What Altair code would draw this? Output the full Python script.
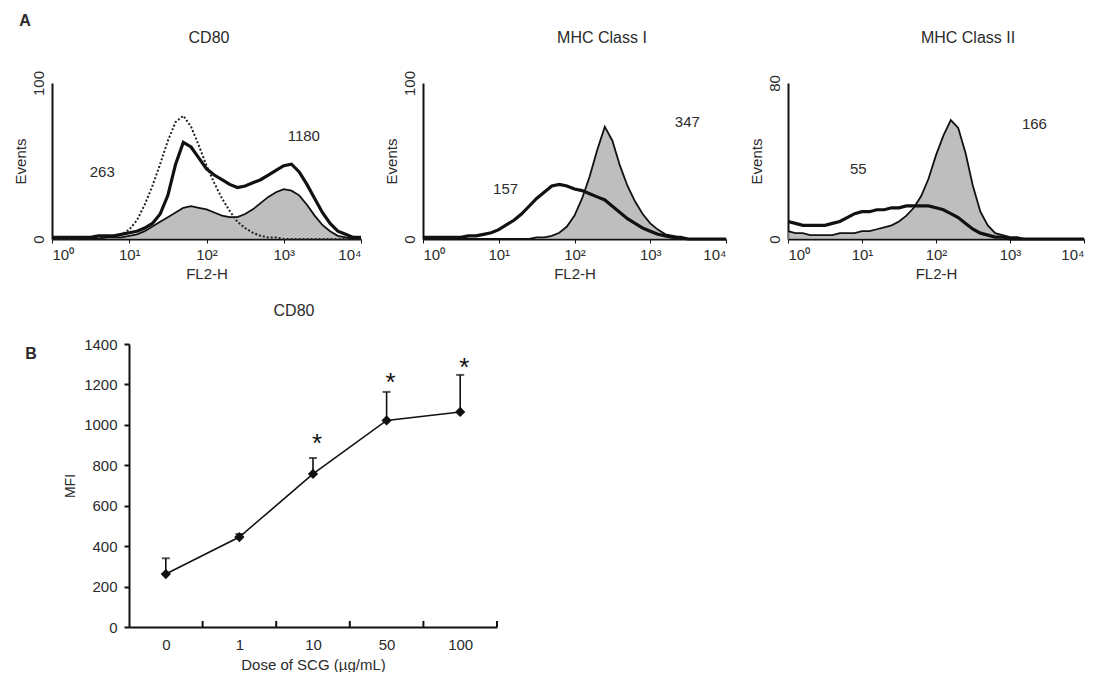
import altair as alt
import pandas as pd

# ---------------- data ----------------
LG = [0.0, 0.1, 0.2, 0.3, 0.4, 0.5, 0.6, 0.7, 0.8, 0.9,
      1.0, 1.1, 1.2, 1.3, 1.4, 1.5, 1.6, 1.7, 1.8, 1.9,
      2.0, 2.1, 2.2, 2.3, 2.4, 2.5, 2.6, 2.7, 2.8, 2.9,
      3.0, 3.1, 3.2, 3.3, 3.4, 3.5, 3.6, 3.7, 3.8, 3.9, 4.0]
DECADE_SUP = ["⁰", "¹", "²", "³", "⁴"]

# CD80
CD80_CTRL = [0, 0, 0, 0, 1, 1, 1, 1, 2, 3,
             6, 12, 22, 34, 48, 63, 75, 79, 72, 60,
             47, 36, 26, 18, 11, 7, 4, 2, 1, 1,
             0, 0, 0, 0, 0, 0, 0, 0, 0, 0, 0]
CD80_OPEN = [1, 1, 1, 1, 1, 1, 2, 2, 2, 3,
             4, 5, 7, 10, 16, 28, 48, 62, 59, 52,
             45, 41, 38, 35, 33, 34, 36, 38, 41, 44,
             47, 48, 43, 35, 26, 17, 10, 5, 3, 1, 1]
CD80_FILL = [0, 0, 0, 0, 0, 0, 0, 1, 1, 1,
             2, 3, 5, 8, 11, 14, 17, 20, 21, 20,
             19, 17, 15, 14, 14, 16, 19, 23, 27, 30,
             32, 31, 28, 22, 15, 9, 5, 2, 1, 0, 0]
# MHC class I
MHC1_OPEN = [1, 1, 1, 1, 1, 1, 2, 2, 3, 4,
             6, 9, 12, 16, 21, 26, 30, 34, 35, 34,
             32, 31, 29, 27, 25, 21, 17, 13, 10, 7,
             5, 3, 2, 1, 1, 0, 0, 0, 0, 0, 0]
MHC1_FILL = [0, 0, 0, 0, 0, 0, 0, 0, 0, 0,
             0, 0, 0, 0, 0, 1, 1, 2, 4, 8,
             15, 26, 40, 57, 72, 63, 47, 34, 24, 16,
             10, 6, 3, 2, 1, 0, 0, 0, 0, 0, 0]
# MHC class II
MHC2_OPEN = [9, 8, 7, 7, 7, 7, 8, 9, 11, 13,
             14, 14, 15, 15, 16, 16, 17, 17, 17, 17,
             16, 15, 13, 11, 8, 5, 3, 2, 1, 1,
             0, 0, 0, 0, 0, 0, 0, 0, 0, 0, 0]
MHC2_FILL = [4, 3, 3, 2, 2, 2, 2, 3, 3, 3,
             4, 4, 5, 6, 7, 9, 12, 16, 22, 31,
             43, 53, 61, 57, 44, 27, 14, 7, 3, 2,
             1, 1, 0, 0, 0, 0, 0, 0, 0, 0, 0]

# MFI annotations (text, log position, height)
CD80_ANN = ["263", "1180"];  CD80_ANN_X = [0.65, 3.26];  CD80_ANN_Y = [43, 66]
MHC1_ANN = ["157", "347"];   MHC1_ANN_X = [1.09, 3.49];  MHC1_ANN_Y = [32, 75]
MHC2_ANN = ["55", "166"];    MHC2_ANN_X = [0.95, 3.33];  MHC2_ANN_Y = [36, 59]

# Panel B
DOSES = ["0", "1", "10", "50", "100"]
DOSE_IDX = [0, 1, 2, 3, 4]
MFI = [262, 445, 757, 1022, 1064]
MFI_SD = [78, 15, 79, 141, 183]
STAR_IDX = [2, 3, 4]
STAR_Y = [940, 1242, 1316]
BOUNDS = [0.5, 1.5, 2.5, 3.5, 4.5]

FONT = "Liberation Sans"
TXT = "#2b2b2b"
INK = "#111111"


def label_mark(text, x, y, size=16, weight="normal"):
    return alt.Chart(pd.DataFrame({"t": [text]})).mark_text(
        font=FONT, fontSize=size, fontWeight=weight, color=TXT).encode(
        text="t:N", x=alt.value(x), y=alt.value(y))


def hist(title, ymax, fill, open_, ctrl, ann, ann_x, ann_y, width, title_x, letter=None):
    rows = []
    for i, lg in enumerate(LG):
        rows.append({"lg": lg, "v": fill[i], "s": "fill"})
        rows.append({"lg": lg, "v": open_[i], "s": "open"})
        if ctrl is not None:
            rows.append({"lg": lg, "v": ctrl[i], "s": "ctrl"})
    df = pd.DataFrame(rows)
    sup = "[" + ",".join("'%s'" % s for s in DECADE_SUP) + "]"
    xe = alt.X("lg:Q", scale=alt.Scale(domain=[0, 4], nice=False, zero=False),
               axis=alt.Axis(values=[0, 1, 2, 3, 4], labelExpr="'10' + " + sup + "[datum.value]",
                             title="FL2-H", tickSize=4, labelPadding=4, titlePadding=4,
                             domainWidth=2))
    ye = alt.Y("v:Q", scale=alt.Scale(domain=[0, ymax], nice=False),
               axis=alt.Axis(values=[0, ymax], title="Events", labelAngle=270,
                             labelAlign="center", labelBaseline="bottom",
                             ticks=False, labelPadding=6, titlePadding=3, domainWidth=2))
    base = alt.Chart(df)
    layers = [
        base.transform_filter(alt.datum.s == "fill").mark_area(
            color="#a3a3a3", line={"color": INK, "strokeWidth": 1.8}).encode(x=xe, y=ye)
    ]
    if ctrl is not None:
        layers.append(base.transform_filter(alt.datum.s == "ctrl").mark_line(
            color="#222222", strokeWidth=2, strokeDash=[2, 2]).encode(x=xe, y=ye))
    layers.append(base.transform_filter(alt.datum.s == "open").mark_line(
        color=INK, strokeWidth=3.2).encode(x=xe, y=ye))
    adf = pd.DataFrame({"lg": ann_x, "v": ann_y, "t": ann})
    layers.append(alt.Chart(adf).mark_text(font=FONT, fontSize=15, color=TXT).encode(
        x=xe, y=ye, text="t:N"))
    layers.append(label_mark(title, title_x, -45))
    if letter:
        layers.append(label_mark(letter, -27, -62, 16, "bold"))
    return alt.layer(*layers).properties(width=width, height=156)


p1 = hist("CD80", 100, CD80_FILL, CD80_OPEN, CD80_CTRL, CD80_ANN, CD80_ANN_X, CD80_ANN_Y, 309, 157, "A")
p2 = hist("MHC Class I", 100, MHC1_FILL, MHC1_OPEN, None, MHC1_ANN, MHC1_ANN_X, MHC1_ANN_Y, 303, 179)
p3 = hist("MHC Class II", 80, MHC2_FILL, MHC2_OPEN, None, MHC2_ANN, MHC2_ANN_X, MHC2_ANN_Y, 296, 180)

top_row = alt.hconcat(p1, p2, p3, spacing=62, bounds="flush")

# ---------- panel B ----------
ldf = pd.DataFrame({"idx": DOSE_IDX, "mfi": MFI,
                    "top": [m + s for m, s in zip(MFI, MFI_SD)]})
sdf = pd.DataFrame({"idx": STAR_IDX, "mfi": STAR_Y, "t": ["*"] * len(STAR_IDX)})
bdf = pd.DataFrame({"idx": BOUNDS})
lab = "[" + ",".join("'%s'" % d for d in DOSES) + "][datum.value]"
bx = alt.X("idx:Q", scale=alt.Scale(domain=[-0.5, 4.5], nice=False, zero=False),
           axis=alt.Axis(values=DOSE_IDX, labelExpr=lab, ticks=False, labelPadding=10,
                         title="Dose of SCG (µg/mL)", titlePadding=5, domainWidth=2))
by = alt.Y("mfi:Q", scale=alt.Scale(domain=[0, 1400], nice=False),
           axis=alt.Axis(values=[0, 200, 400, 600, 800, 1000, 1200, 1400], format="d",
                         title="MFI", tickSize=5, tickWidth=2, labelPadding=7, titlePadding=6,
                         domainWidth=2, titleFontSize=14))
lb = alt.Chart(ldf)
line_chart = alt.layer(
    alt.Chart(bdf).mark_rule(color=INK, strokeWidth=2).encode(
        x=bx, y=alt.datum(0), y2=alt.datum(30)),
    lb.mark_rule(color=INK, strokeWidth=1.6).encode(x=bx, y=by, y2="top:Q"),
    lb.mark_tick(orient="horizontal", size=8, thickness=2, color=INK).encode(
        x=bx, y=alt.Y("top:Q")),
    lb.mark_line(color=INK, strokeWidth=1.6).encode(x=bx, y=by),
    lb.mark_point(shape="diamond", filled=True, size=105, color=INK, opacity=1).encode(x=bx, y=by),
    alt.Chart(sdf).mark_text(font=FONT, fontSize=26, color=INK, dx=4, dy=7).encode(
        x=bx, y=by, text="t:N"),
    label_mark("CD80", 165, -33),
).properties(width=368, height=283)

spacer = label_mark("B", -21, 10, 16, "bold").properties(width=20, height=283)

bottom_row = alt.hconcat(spacer, line_chart, spacing=57, bounds="flush")

chart = alt.vconcat(top_row, bottom_row, spacing=261, bounds="flush").properties(
    padding={"left": 5, "top": 5, "right": 0, "bottom": 0},
).configure_view(stroke=None).configure_axis(
    labelFont=FONT, titleFont=FONT, labelFontSize=15, titleFontSize=15,
    labelColor=TXT, titleColor=TXT, titleFontWeight="normal",
    domainColor=INK, tickColor=INK, grid=False
)

chart.save("out.html", embed_options={"renderer": "svg", "actions": False})
